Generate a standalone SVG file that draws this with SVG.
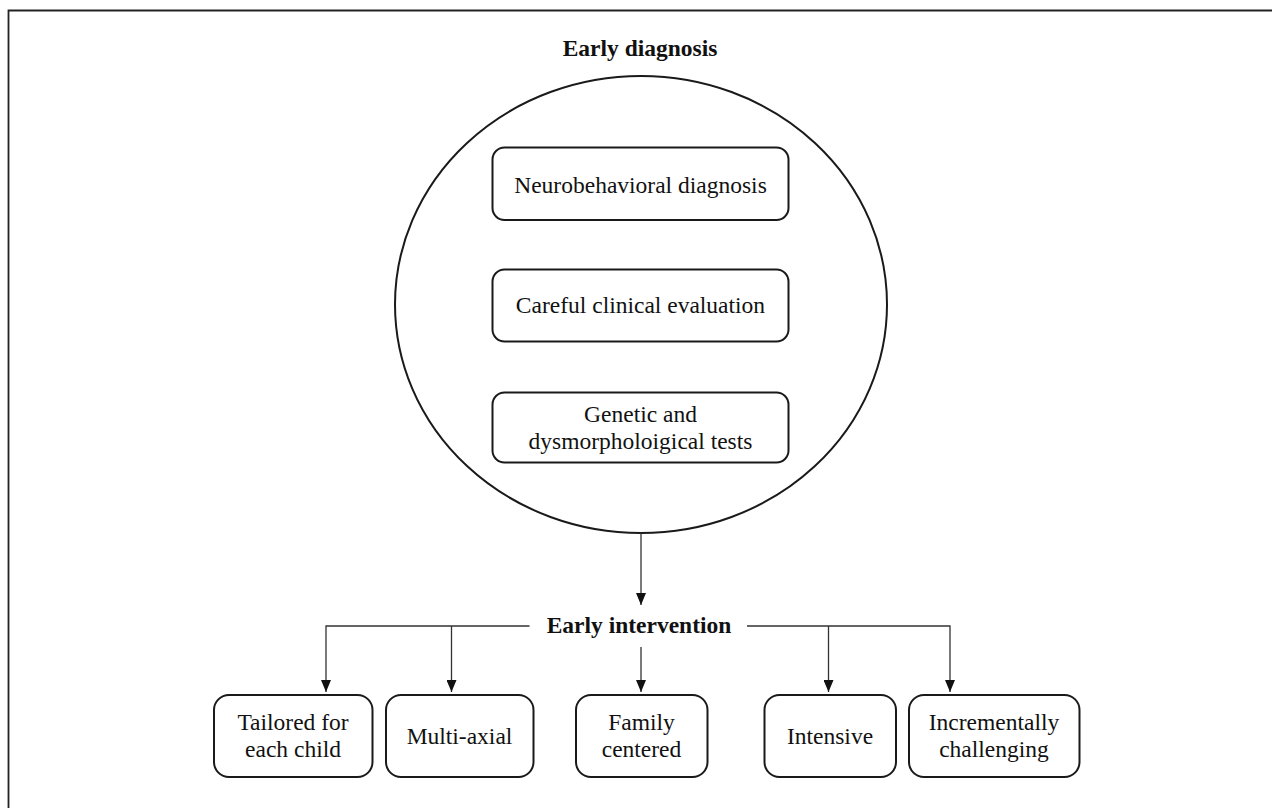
<svg xmlns="http://www.w3.org/2000/svg" width="1272" height="808" viewBox="0 0 1272 808">
<style>
  .box { fill: #fff; stroke: #1a1a1a; stroke-width: 2; }
  .t { font-family: "Liberation Serif", "Times New Roman", serif; font-size: 23.5px; fill: #111; text-anchor: middle; }
  .b { font-weight: bold; }
  .c { fill: none; stroke: #333; stroke-width: 1.3; }
</style>
<defs>
  <marker id="ah" viewBox="0 0 12 10" refX="12" refY="5" markerWidth="12" markerHeight="10" markerUnits="userSpaceOnUse" orient="auto">
    <path d="M0,0 L12,5 L0,10 Z" fill="#111"/>
  </marker>
</defs>
<rect width="1272" height="808" fill="#fff"/>
<path d="M8.5,808 V10.5 H1272" fill="none" stroke="#222" stroke-width="1.8"/>

<g id="early-diagnosis">
  <text class="t b" x="640" y="56">Early diagnosis</text>
  <ellipse cx="641" cy="304.5" rx="246" ry="228.5" fill="none" stroke="#1a1a1a" stroke-width="2"/>
</g>
<g id="neuro">
  <rect class="box" x="492.5" y="147.5" width="296" height="72.5" rx="12"/>
  <text class="t" x="640.5" y="192.5">Neurobehavioral diagnosis</text>
</g>
<g id="careful">
  <rect class="box" x="492.5" y="269.5" width="296" height="72" rx="12"/>
  <text class="t" x="640.5" y="313">Careful clinical evaluation</text>
</g>
<g id="genetic">
  <rect class="box" x="492.5" y="392.5" width="296" height="70" rx="12"/>
  <text class="t" x="640.5" y="421.5">Genetic and</text>
  <text class="t" x="640.5" y="448.5">dysmorpholoigical tests</text>
</g>

<g id="early-intervention">
  <text class="t b" x="639" y="633">Early intervention</text>
</g>

<g id="tailored">
  <rect class="box" x="214" y="695" width="158.5" height="82" rx="15"/>
  <text class="t" x="293" y="730">Tailored for</text>
  <text class="t" x="293" y="757">each child</text>
</g>
<g id="multiaxial">
  <rect class="box" x="386" y="695" width="147.5" height="82" rx="15"/>
  <text class="t" x="459.5" y="744">Multi-axial</text>
</g>
<g id="family">
  <rect class="box" x="576" y="695" width="131.5" height="82" rx="15"/>
  <text class="t" x="641.5" y="730">Family</text>
  <text class="t" x="641.5" y="757">centered</text>
</g>
<g id="intensive">
  <rect class="box" x="764.5" y="695" width="131.5" height="82" rx="15"/>
  <text class="t" x="830" y="744">Intensive</text>
</g>
<g id="incremental">
  <rect class="box" x="909" y="695" width="170.5" height="82" rx="15"/>
  <text class="t" x="994" y="730">Incrementally</text>
  <text class="t" x="994" y="757">challenging</text>
</g>

<g id="connectors">
  <path class="c" d="M641,533 V605" marker-end="url(#ah)"/>
  <path class="c" d="M529.5,626 H326 V692"  marker-end="url(#ah)"/>
  <path class="c" d="M451.5,626 V692" marker-end="url(#ah)"/>
  <path class="c" d="M641,647 V692" marker-end="url(#ah)"/>
  <path class="c" d="M747,626 H950 V692" marker-end="url(#ah)"/>
  <path class="c" d="M828.5,626 V692" marker-end="url(#ah)"/>
</g>
</svg>
